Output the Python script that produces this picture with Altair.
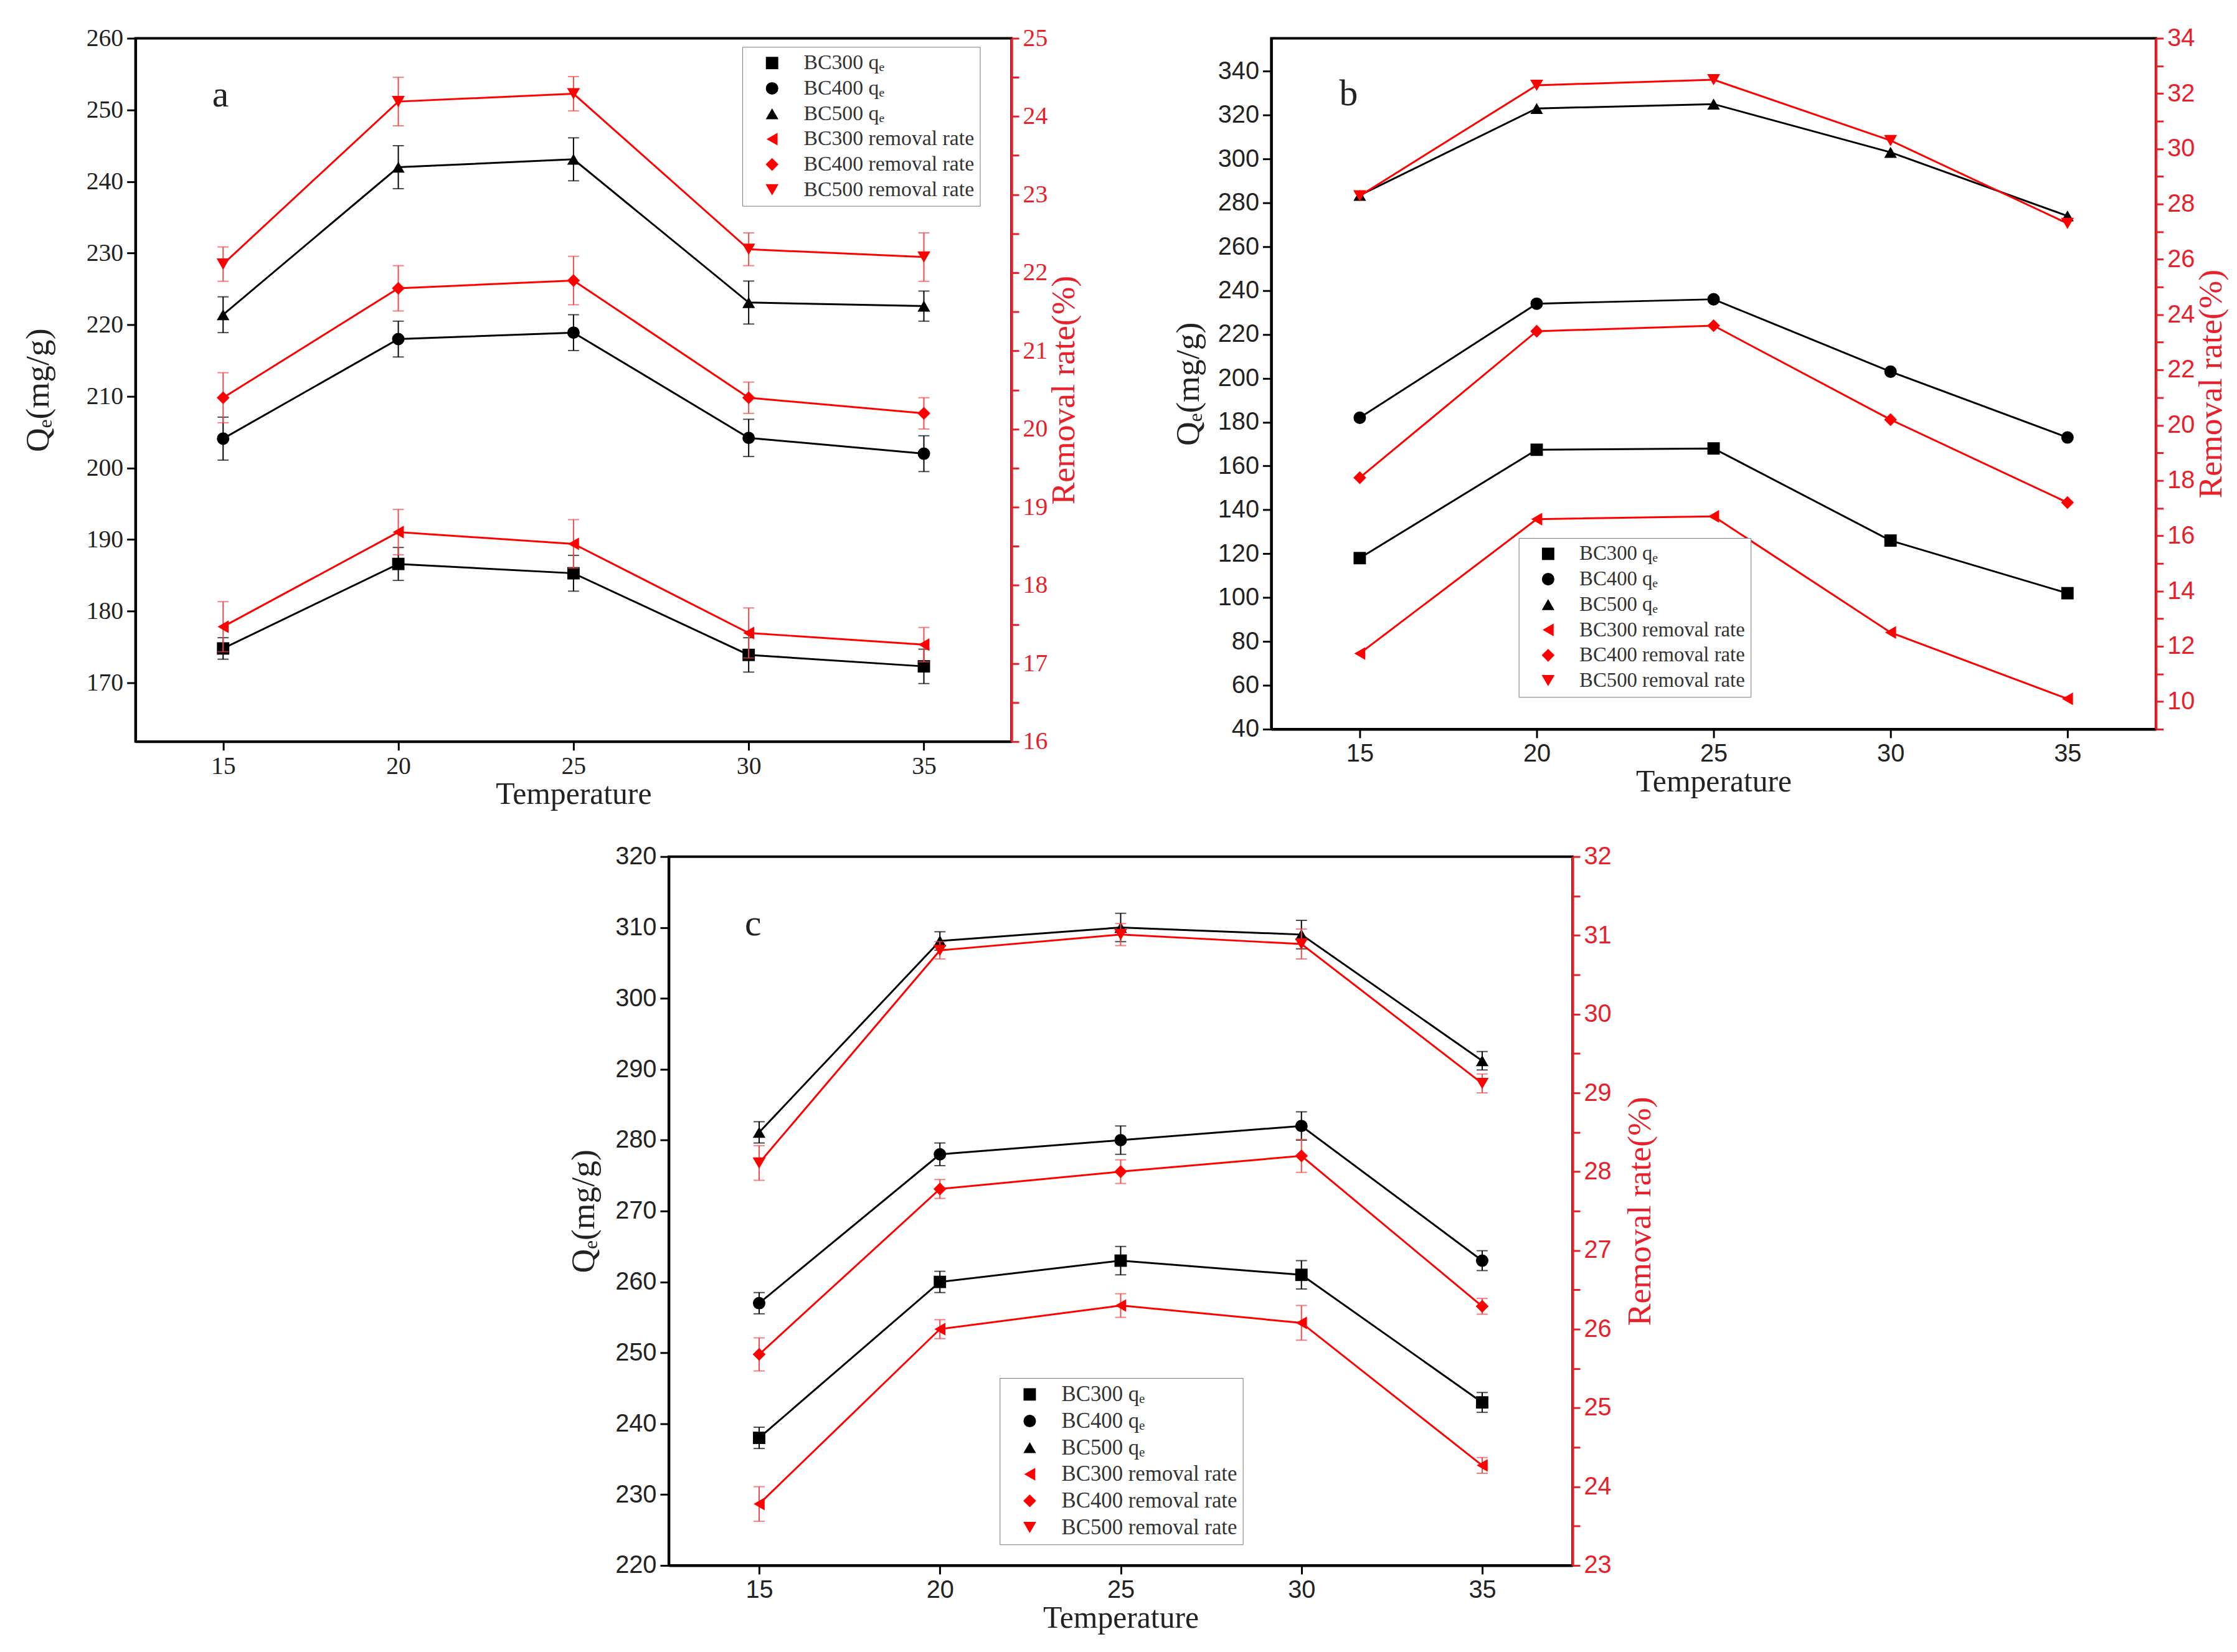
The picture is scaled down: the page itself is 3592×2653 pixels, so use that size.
import altair as alt
import pandas as pd

SERIF = "Liberation Serif"
SANS = "Liberation Sans"
RED = "#ff0000"
AXIS_RED = "#e8202a"

temperature = [15, 20, 25, 30, 35]
series_names = ["BC300 qₑ", "BC400 qₑ", "BC500 qₑ",
                "BC300 removal rate", "BC400 removal rate", "BC500 removal rate"]
series_shapes = ["square", "circle", "triangle-up",
                 "triangle-left", "diamond", "triangle-down"]
series_colors = ["black", "black", "black", RED, RED, RED]
series_sizes = [400, 440, 620, 620, 620, 620]

# panel a
a_qe = [[174.8, 186.6, 185.3, 173.9, 172.3],
        [204.1, 218.0, 218.9, 204.2, 202.0],
        [221.4, 242.0, 243.1, 223.1, 222.6]]
a_qe_err = [[1.5, 2.3, 2.5, 2.4, 2.4],
            [3.0, 2.5, 2.5, 2.6, 2.5],
            [2.5, 3.0, 3.0, 3.0, 2.1]]
a_rr = [[17.47, 18.68, 18.53, 17.39, 17.24],
        [20.4, 21.8, 21.9, 20.4, 20.2],
        [22.11, 24.19, 24.29, 22.3, 22.2]]
a_rr_err = [[0.32, 0.29, 0.31, 0.32, 0.22],
            [0.32, 0.29, 0.31, 0.2, 0.2],
            [0.22, 0.31, 0.22, 0.21, 0.31]]
a_qe_ticks = [170, 180, 190, 200, 210, 220, 230, 240, 250, 260]
a_rr_ticks = [16, 16.5, 17, 17.5, 18, 18.5, 19, 19.5, 20, 20.5, 21, 21.5,
              22, 22.5, 23, 23.5, 24, 24.5, 25]

# panel b
b_qe = [[118, 167.4, 168, 126, 102],
        [182, 234, 236, 203, 173],
        [283.4, 323, 325, 303, 274]]
b_rr = [[11.74, 16.6, 16.7, 12.5, 10.1],
        [18.1, 23.4, 23.6, 20.2, 17.2],
        [28.3, 32.3, 32.5, 30.3, 27.3]]
b_qe_ticks = [40, 60, 80, 100, 120, 140, 160, 180, 200, 220, 240, 260, 280,
              300, 320, 340]
b_rr_ticks = [9, 10, 11, 12, 13, 14, 15, 16, 17, 18, 19, 20, 21, 22, 23, 24,
              25, 26, 27, 28, 29, 30, 31, 32, 33, 34]

# panel c
c_qe = [[238, 260, 263, 261, 243],
        [257, 278, 280, 282, 263],
        [281.1, 308.1, 310, 309, 291.2]]
c_qe_err = [[1.5, 1.5, 2.0, 2.0, 1.4],
            [1.5, 1.6, 2.0, 2.0, 1.4],
            [1.5, 1.3, 2.0, 2.0, 1.3]]
c_rr = [[23.78, 26.0, 26.3, 26.08, 24.27],
        [25.68, 27.78, 28.0, 28.2, 26.29],
        [28.11, 30.81, 31.01, 30.89, 29.12]]
c_rr_err = [[0.22, 0.12, 0.15, 0.22, 0.1],
            [0.21, 0.12, 0.15, 0.21, 0.1],
            [0.22, 0.11, 0.14, 0.19, 0.12]]
c_qe_ticks = [220, 230, 240, 250, 260, 270, 280, 290, 300, 310, 320]
c_rr_ticks = [23, 23.5, 24, 24.5, 25, 25.5, 26, 26.5, 27, 27.5, 28, 28.5,
              29, 29.5, 30, 30.5, 31, 31.5, 32]


def series_frame(values, errors, names):
    rows = []
    for i, name in enumerate(names):
        for j, t in enumerate(temperature):
            err = errors[i][j] if errors else 0
            rows.append({"temperature": t, "series": name,
                         "value": values[i][j],
                         "lo": values[i][j] - err, "hi": values[i][j] + err})
    return pd.DataFrame(rows)


def side_layer(df, color, err_color, y_scale, y_axis, x_axis, legend,
               with_errors):
    x_scale = alt.Scale(domain=[12.5, 37.5], nice=False, zero=False)
    x_enc = alt.X("temperature:Q", scale=x_scale, axis=x_axis)
    base = alt.Chart(df)
    line = base.mark_line(color=color, strokeWidth=3).encode(
        x=x_enc,
        y=alt.Y("value:Q", scale=y_scale, axis=y_axis),
        detail="series:N",
    )
    layers = [line]
    if with_errors:
        rule = base.mark_rule(color=err_color, strokeWidth=2).encode(
            x=x_enc,
            y=alt.Y("lo:Q", scale=y_scale, axis=y_axis),
            y2="hi:Q",
        )
        layers.append(rule)
        for end in ["lo", "hi"]:
            cap = base.mark_tick(color=err_color, orient="horizontal",
                                 size=18, thickness=2).encode(
                x=x_enc,
                y=alt.Y(end + ":Q", scale=y_scale, axis=y_axis),
            )
            layers.append(cap)
    points = base.mark_point(filled=True, opacity=1).encode(
        x=x_enc,
        y=alt.Y("value:Q", scale=y_scale, axis=y_axis),
        color=alt.Color("series:N", legend=legend,
                        scale=alt.Scale(domain=series_names,
                                        range=series_colors)),
        shape=alt.Shape("series:N", legend=legend,
                        scale=alt.Scale(domain=series_names,
                                        range=series_shapes)),
        size=alt.Size("series:N", legend=None,
                      scale=alt.Scale(domain=series_names,
                                      range=series_sizes)),
    )
    layers.append(points)
    return alt.layer(*layers)


def make_panel(letter, qe, qe_err, rr, rr_err, qe_domain, qe_ticks,
               rr_domain, rr_ticks, rr_major, tick_font, width, height,
               legend_x, legend_y, legend_font, letter_dx, letter_dy,
               qe_title_pad, rr_title_pad, x_title_pad):
    qe_df = series_frame(qe, qe_err, series_names[:3])
    rr_df = series_frame(rr, rr_err, series_names[3:])

    x_axis = alt.Axis(values=temperature, title="Temperature", format="d",
                      titleFont=SERIF, titleFontSize=50,
                      titleFontWeight="normal", titleColor="#222",
                      titlePadding=x_title_pad, labelFont=tick_font,
                      labelFontSize=40, labelColor="#222", labelFlush=False,
                      tickSize=14, labelPadding=6, domainColor="black",
                      tickColor="black")
    qe_axis = alt.Axis(values=qe_ticks, orient="left", title="Qₑ(mg/g)",
                       format="d", titleFont=SERIF, titleFontSize=54,
                       titleFontWeight="normal", titleColor="#222",
                       titlePadding=qe_title_pad, labelFont=tick_font,
                       labelFontSize=40, labelColor="#222", labelFlush=False,
                       labelOverlap=False, tickSize=14, labelPadding=6,
                       domainColor="black", tickColor="black")
    major_test = f"datum.value % {rr_major} == 0"
    rr_axis = alt.Axis(values=rr_ticks, orient="right",
                       title="Removal rate(%)",
                       labelExpr=f"{major_test} ? format(datum.value, 'd') : ''",
                       titleFont=SERIF, titleFontSize=54,
                       titleFontWeight="normal", titleColor=AXIS_RED,
                       titleAngle=270, titleBaseline="top",
                       titlePadding=rr_title_pad,
                       labelFont=tick_font, labelFontSize=40,
                       labelColor=AXIS_RED, labelFlush=False,
                       labelOverlap=False, labelPadding=6, tickSize=12,
                       domainColor=AXIS_RED, tickColor=AXIS_RED)

    legend = alt.Legend(title=None, orient="none", legendX=legend_x,
                        legendY=legend_y, labelFont=SERIF,
                        labelFontSize=legend_font, labelColor="#333",
                        labelLimit=0, symbolSize=420, symbolStrokeWidth=0,
                        symbolOffset=22, rowPadding=7, labelOffset=34,
                        padding=9, strokeColor="#777", fillColor="white")

    left = side_layer(qe_df, "black", "black",
                      alt.Scale(domain=qe_domain, nice=False, zero=False),
                      qe_axis, x_axis, legend, qe_err is not None)
    right = side_layer(rr_df, RED, "#f04a4a",
                       alt.Scale(domain=rr_domain, nice=False, zero=False),
                       rr_axis, x_axis, legend, rr_err is not None)

    return alt.layer(left, right).resolve_scale(y="independent").properties(
        width=width, height=height,
        title=alt.TitleParams(letter, anchor="start", frame="group",
                              dx=letter_dx, dy=letter_dy, offset=0,
                              baseline="alphabetic", font=SERIF,
                              fontSize=60, fontWeight="normal",
                              color="#222"),
    )


def independent(chart):
    return chart.resolve_scale(
        color="independent", shape="independent", size="independent"
    ).resolve_legend(color="independent", shape="independent",
                     size="independent")


panel_a = make_panel("a", a_qe, a_qe_err, a_rr, a_rr_err, [161.8, 260],
                     a_qe_ticks, [16, 25], a_rr_ticks, 1, SERIF, 1416, 1137,
                     981, 14, 34, 124, 190, 50, 0, 0)
panel_b = make_panel("b", b_qe, None, b_rr, None, [40, 355], b_qe_ticks,
                     [9, 34], b_rr_ticks, 2, SANS, 1430, 1117,
                     400, 808, 33, 110, 188, 20, 0, 0)
panel_c = make_panel("c", c_qe, c_qe_err, c_rr, c_rr_err, [220, 320],
                     c_qe_ticks, [23, 32], c_rr_ticks, 1, SANS, 1461, 1146,
                     535, 843, 35, 123, 207, 23, 20, 0)

# empty block that pushes panel c to its place under the top row
spacer = alt.Chart(pd.DataFrame({"v": [0]})).mark_point(opacity=0).encode(
    x=alt.X("v:Q", axis=None), y=alt.Y("v:Q", axis=None)
).properties(width=696, height=1, view=alt.ViewBackground(strokeWidth=0))

top_row = independent(alt.hconcat(panel_a, panel_b, spacing=143))
bottom_row = independent(alt.hconcat(spacer, panel_c, spacing=0))

chart = independent(alt.vconcat(top_row, bottom_row, spacing=52)).properties(
    padding={"left": 25, "top": 23, "right": 4, "bottom": 4},
    background="white",
).configure_view(
    stroke="black", strokeWidth=4
).configure_axis(
    grid=False, domainWidth=4, tickWidth=3
)

chart.save("out.html", embed_options={"renderer": "svg", "actions": False})
